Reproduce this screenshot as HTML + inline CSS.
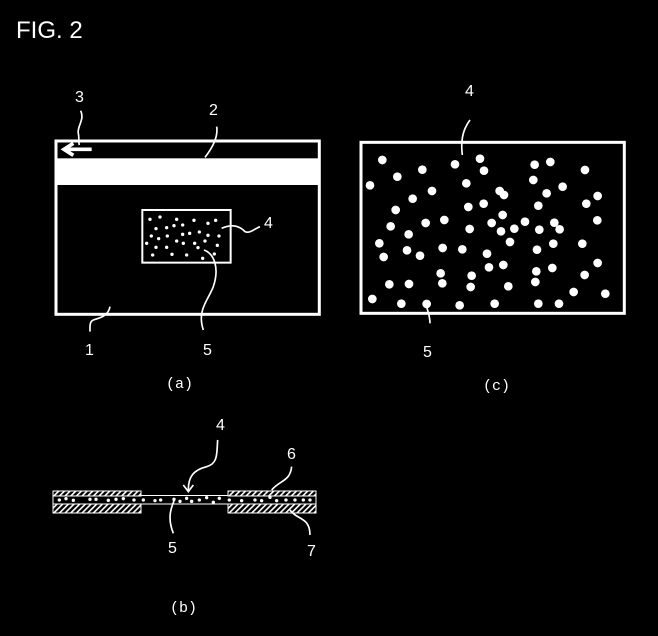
<!DOCTYPE html>
<html><head><style>html,body{margin:0;padding:0;background:#000;}svg{display:block}</style></head>
<body>
<svg width="658" height="636" viewBox="0 0 658 636" xmlns="http://www.w3.org/2000/svg" font-family="Liberation Sans, sans-serif" fill="#fff">
<rect width="658" height="636" fill="#000"/>
<text x="16" y="38" font-size="24">FIG. 2</text>

<!-- (a) -->
<g transform="translate(40,80) scale(0.3333)">
  <rect x="48" y="183" width="790" height="520" fill="none" stroke="#fff" stroke-width="9"/>
  <rect x="48" y="235" width="790" height="80" fill="#fff"/>
  <rect x="307" y="390" width="265" height="158" fill="none" stroke="#fff" stroke-width="6"/>
  <g fill="#fff">
  <circle cx="330" cy="418" r="5"/><circle cx="360" cy="411" r="5"/><circle cx="410" cy="418" r="5"/><circle cx="462" cy="421" r="5"/><circle cx="504" cy="430" r="5"/><circle cx="527" cy="421" r="5"/><circle cx="348" cy="446" r="5"/><circle cx="380" cy="443" r="5"/><circle cx="402" cy="437" r="5"/><circle cx="428" cy="435" r="5"/><circle cx="334" cy="468" r="5"/><circle cx="356" cy="476" r="5"/><circle cx="382" cy="468" r="5"/><circle cx="428" cy="463" r="5"/><circle cx="449" cy="460" r="5"/><circle cx="478" cy="456" r="5"/><circle cx="504" cy="466" r="5"/><circle cx="537" cy="468" r="5"/><circle cx="320" cy="490" r="5"/><circle cx="348" cy="502" r="5"/><circle cx="380" cy="502" r="5"/><circle cx="410" cy="483" r="5"/><circle cx="430" cy="490" r="5"/><circle cx="464" cy="490" r="5"/><circle cx="495" cy="483" r="5"/><circle cx="532" cy="496" r="5"/><circle cx="338" cy="525" r="5"/><circle cx="396" cy="523" r="5"/><circle cx="440" cy="525" r="5"/><circle cx="488" cy="535" r="5"/><circle cx="523" cy="522" r="5"/><circle cx="474" cy="503" r="5"/>
  </g>
  <g fill="none" stroke="#fff" stroke-width="5">
    <path d="M122 92 C135 120 110 140 115 160 C118 175 115 185 118 195"/>
    <path d="M530 140 C535 170 520 200 495 232"/>
    <path d="M545 445 C580 430 600 440 615 455 C630 462 645 445 660 440"/>
    <path d="M492 510 C520 520 540 560 520 620 C505 660 470 690 490 750"/>
    <path d="M210 680 C205 710 175 715 160 720 C148 725 150 740 150 755"/>
  </g>
  <g fill="none" stroke="#fff" stroke-width="11">
    <path d="M75 208 H155"/><path d="M100 190 L72 208 L100 226"/>
  </g>
</g>
<text x="75" y="102" font-size="16">3</text>
<text x="209" y="115" font-size="16">2</text>
<text x="264" y="228" font-size="16">4</text>
<text x="85" y="355" font-size="16">1</text>
<text x="203" y="355" font-size="16">5</text>
<text x="166" y="388" font-size="15" font-family="Liberation Mono, monospace">(a)</text>

<!-- (c) -->
<g transform="translate(355,130) scale(0.3333)">
  <rect x="18" y="37" width="790" height="513" fill="none" stroke="#fff" stroke-width="9"/>
  <g fill="#fff">
  <circle cx="82" cy="90" r="13"/><circle cx="202" cy="119" r="13"/><circle cx="300" cy="103" r="13"/><circle cx="375" cy="86" r="13"/><circle cx="387" cy="122" r="13"/><circle cx="539" cy="104" r="13"/><circle cx="586" cy="96" r="13"/><circle cx="690" cy="120" r="13"/><circle cx="127" cy="140" r="13"/><circle cx="45" cy="166" r="13"/><circle cx="334" cy="160" r="13"/><circle cx="535" cy="150" r="13"/><circle cx="231" cy="183" r="13"/><circle cx="434" cy="183" r="13"/><circle cx="447" cy="195" r="13"/><circle cx="575" cy="190" r="13"/><circle cx="623" cy="170" r="13"/><circle cx="728" cy="198" r="13"/><circle cx="173" cy="206" r="13"/><circle cx="340" cy="231" r="13"/><circle cx="386" cy="221" r="13"/><circle cx="550" cy="227" r="13"/><circle cx="694" cy="221" r="13"/><circle cx="122" cy="240" r="13"/><circle cx="443" cy="255" r="13"/><circle cx="268" cy="270" r="13"/><circle cx="212" cy="279" r="13"/><circle cx="107" cy="289" r="13"/><circle cx="410" cy="279" r="13"/><circle cx="510" cy="275" r="13"/><circle cx="598" cy="278" r="13"/><circle cx="614" cy="298" r="13"/><circle cx="727" cy="271" r="13"/><circle cx="161" cy="313" r="13"/><circle cx="344" cy="297" r="13"/><circle cx="438" cy="304" r="13"/><circle cx="478" cy="296" r="13"/><circle cx="553" cy="299" r="13"/><circle cx="73" cy="340" r="13"/><circle cx="465" cy="336" r="13"/><circle cx="595" cy="341" r="13"/><circle cx="682" cy="341" r="13"/><circle cx="156" cy="361" r="13"/><circle cx="263" cy="354" r="13"/><circle cx="322" cy="358" r="13"/><circle cx="546" cy="359" r="13"/><circle cx="86" cy="381" r="13"/><circle cx="195" cy="377" r="13"/><circle cx="396" cy="371" r="13"/><circle cx="402" cy="412" r="13"/><circle cx="445" cy="405" r="13"/><circle cx="544" cy="424" r="13"/><circle cx="592" cy="414" r="13"/><circle cx="728" cy="399" r="13"/><circle cx="257" cy="430" r="13"/><circle cx="350" cy="437" r="13"/><circle cx="689" cy="435" r="13"/><circle cx="103" cy="463" r="13"/><circle cx="162" cy="462" r="13"/><circle cx="262" cy="460" r="13"/><circle cx="347" cy="471" r="13"/><circle cx="460" cy="469" r="13"/><circle cx="541" cy="456" r="13"/><circle cx="656" cy="486" r="13"/><circle cx="751" cy="491" r="13"/><circle cx="52" cy="507" r="13"/><circle cx="139" cy="521" r="13"/><circle cx="215" cy="522" r="13"/><circle cx="314" cy="526" r="13"/><circle cx="419" cy="521" r="13"/><circle cx="550" cy="521" r="13"/><circle cx="612" cy="521" r="13"/>
  </g>
  <g fill="none" stroke="#fff" stroke-width="5">
    <path d="M345 -30 C330 -10 315 20 322 75"/>
    <path d="M215 530 C220 550 225 560 225 580"/>
  </g>
</g>
<text x="465" y="96" font-size="16">4</text>
<text x="423" y="357" font-size="16">5</text>
<text x="483" y="390" font-size="15" font-family="Liberation Mono, monospace">(c)</text>

<!-- (b) -->
<defs>
  <pattern id="h1" width="4" height="4" patternUnits="userSpaceOnUse" patternTransform="rotate(45)">
    <rect width="1.6" height="4" fill="#fff"/>
  </pattern>
</defs>
<g>
  <rect x="53" y="491" width="88" height="5" fill="url(#h1)" stroke="#fff" stroke-width="1"/>
  <rect x="53" y="504" width="88" height="9" fill="url(#h1)" stroke="#fff" stroke-width="1"/>
  <rect x="228" y="491" width="88" height="5" fill="url(#h1)" stroke="#fff" stroke-width="1"/>
  <rect x="228" y="504" width="88" height="9" fill="url(#h1)" stroke="#fff" stroke-width="1"/>
  <path d="M53 496 V504 M316 496 V504 M141 495.5 H228 M141 504 H228" stroke="#fff" stroke-width="1" fill="none"/>
</g>
<g transform="translate(40,410) scale(0.3333)" fill="#fff">
  <circle cx="58" cy="270" r="5"/><circle cx="78" cy="266" r="5"/><circle cx="100" cy="271" r="5"/><circle cx="150" cy="268" r="5"/><circle cx="168" cy="268" r="5"/><circle cx="205" cy="271" r="5"/><circle cx="228" cy="268" r="5"/><circle cx="250" cy="266" r="5"/><circle cx="282" cy="270" r="5"/><circle cx="310" cy="270" r="5"/><circle cx="345" cy="272" r="5"/><circle cx="362" cy="270" r="5"/><circle cx="402" cy="268" r="5"/><circle cx="420" cy="274" r="5"/><circle cx="440" cy="265" r="5"/><circle cx="455" cy="274" r="5"/><circle cx="478" cy="270" r="5"/><circle cx="500" cy="263" r="5"/><circle cx="520" cy="277" r="5"/><circle cx="538" cy="265" r="5"/><circle cx="568" cy="270" r="5"/><circle cx="605" cy="272" r="5"/><circle cx="645" cy="270" r="5"/><circle cx="665" cy="272" r="5"/><circle cx="690" cy="262" r="5"/><circle cx="710" cy="272" r="5"/><circle cx="738" cy="270" r="5"/><circle cx="765" cy="270" r="5"/><circle cx="790" cy="270" r="5"/><circle cx="810" cy="270" r="5"/>
  <g fill="none" stroke="#fff" stroke-width="5">
    <path d="M533 90 C530 130 535 160 500 170 C460 180 445 200 445 240"/>
    <path d="M430 225 L445 245 L460 225"/>
    <path d="M755 170 C750 215 720 210 695 240"/>
    <path d="M750 300 C770 330 810 320 810 375"/>
    <path d="M405 265 C395 290 380 320 400 370"/>
  </g>
</g>
<text x="216" y="430" font-size="16">4</text>
<text x="287" y="459" font-size="16">6</text>
<text x="168" y="553" font-size="16">5</text>
<text x="307" y="556" font-size="16">7</text>
<text x="170" y="612" font-size="15" font-family="Liberation Mono, monospace">(b)</text>
</svg>
</body></html>
